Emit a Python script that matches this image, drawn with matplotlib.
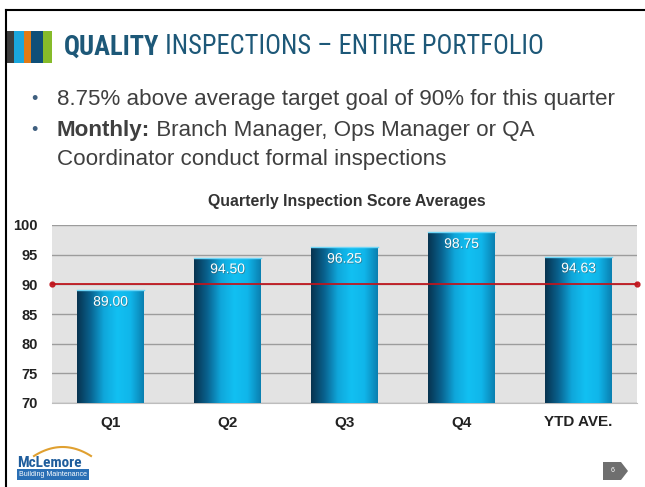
import numpy as np
import matplotlib.pyplot as plt
import matplotlib.patheffects as pe
from matplotlib import font_manager
from matplotlib.colors import LinearSegmentedColormap
from matplotlib.patches import Rectangle, Polygon

# Data
categories = ['Q1', 'Q2', 'Q3', 'Q4', 'YTD AVE.']
scores = [89.00, 94.50, 96.25, 98.75, 94.63]
target = 90
y_ticks = [70, 75, 80, 85, 90, 95, 100]

bullets = ['8.75% above average target goal of 90% for this quarter']
monthly_head = 'Monthly:'
monthly_rest = ' Branch Manager, Ops Manager or QA'
monthly_line2 = 'Coordinator conduct formal inspections'

plt.rcParams['font.family'] = ['Liberation Sans', 'DejaVu Sans']

# pick a narrow face for the title if one is installed
installed = {f.name for f in font_manager.fontManager.ttflist}
narrow = 'Liberation Sans'
for cand in ['Liberation Sans Narrow', 'Roboto Condensed', 'Open Sans Condensed',
             'Arial Narrow']:
    if cand in installed:
        narrow = cand
        break

W, H = 645, 487
fig = plt.figure(figsize=(W / 100, H / 100), dpi=100)
fig.patch.set_facecolor('white')


def fx(x):
    return x / W


def fy(y):
    return 1 - y / H


# slide frame
fig.add_artist(plt.Line2D([fx(6), 1], [fy(10), fy(10)], color='black', lw=1.5))
fig.add_artist(plt.Line2D([fx(6), fx(6)], [0, fy(10)], color='black', lw=1.5))

# coloured stripes next to the title
stripes = [(6, 14, '#3d3d3d'), (14, 24, '#1aa6dd'), (24, 31, '#e07a16'),
           (31, 43, '#0f4f78'), (43, 52, '#86bb2a')]
for x0, x1, c in stripes:
    fig.add_artist(Rectangle((fx(x0), fy(63)), fx(x1 - x0), 32 / H,
                             transform=fig.transFigure, color=c, lw=0))

# title (size chosen so the line spans the same width as the slide)
title_color = '#1d5878'
size = 18
for _ in range(2):
    t1 = fig.text(fx(64), fy(47), 'QUALITY', fontsize=size, fontweight='bold',
                  color=title_color, va='center', ha='left', family=narrow)
    fig.canvas.draw()
    bb = t1.get_window_extent()
    t1b = fig.text(bb.x1 / W, fy(47), ' INSPECTIONS \u2013 ENTIRE PORTFOLIO',
                   fontsize=size, color=title_color, va='center', ha='left',
                   family=narrow)
    fig.canvas.draw()
    width = t1b.get_window_extent().x1 - bb.x0
    if abs(width - 481) < 4:
        break
    t1.remove()
    t1b.remove()
    size = size * 481 / width

# bullets
text_color = '#3f3f3f'
fs = 16.1
fig.text(fx(31), fy(100), '\u2022', fontsize=13, color='#3f5f7f', va='center')
fig.text(fx(57), fy(100), bullets[0], fontsize=fs, color=text_color, va='center')
fig.text(fx(31), fy(130), '\u2022', fontsize=13, color='#3f5f7f', va='center')
t2 = fig.text(fx(57), fy(130), monthly_head, fontsize=fs, fontweight='bold',
              color=text_color, va='center')
fig.canvas.draw()
bb = t2.get_window_extent()
fig.text(bb.x1 / W, fy(130), monthly_rest, fontsize=fs, color=text_color, va='center')
fig.text(fx(57), fy(160), monthly_line2, fontsize=fs, color=text_color, va='center')

# chart title
fig.text(fx(347), fy(201), 'Quarterly Inspection Score Averages', fontsize=11.4,
         fontweight='bold', color='#333333', ha='center', va='center')

# chart
ax = fig.add_axes([fx(52), 84 / H, 585 / W, 178 / H])
ax.set_facecolor('#e3e3e3')
x = np.arange(len(categories))
bars = ax.bar(x, scores, width=0.57, color='none', zorder=3)

bar_cmap = LinearSegmentedColormap.from_list(
    'bar', ['#07334f', '#09628f', '#0fa6da', '#12c0f2', '#10b6ea', '#0a7fb0'])
grad = np.linspace(0, 1, 256).reshape(1, -1)
for b in bars:
    im = ax.imshow(grad, cmap=bar_cmap, aspect='auto', zorder=3,
                   extent=(b.get_x(), b.get_x() + b.get_width(), y_ticks[0], b.get_height()))
    im.set_clip_path(b)
    ax.plot([b.get_x(), b.get_x() + b.get_width()], [b.get_height()] * 2,
            color='#6fd6f7', lw=1, zorder=3.5)

ax.set_xlim(-0.5, len(categories) - 0.5)
ax.set_ylim(y_ticks[0], y_ticks[-1])

for xi, v in zip(x, scores):
    ax.text(xi, v - 0.75, f'{v:.2f}', ha='center', va='top', color='white',
            fontsize=10, zorder=5,
            path_effects=[pe.withSimplePatchShadow(offset=(0.6, -0.6), alpha=0.5)])

ax.plot([-0.5, len(categories) - 0.5], [target, target], color='#c0141c', lw=1.4,
        marker='o', ms=3.5, clip_on=False, zorder=4, alpha=0.9)

ax.set_yticks(y_ticks)
ax.set_xticks(x)
ax.set_xticklabels(categories)
ax.yaxis.grid(True, color='#9c9c9c', lw=1)
ax.set_axisbelow(True)
for s in ['left', 'right', 'top']:
    ax.spines[s].set_visible(False)
ax.spines['bottom'].set_color('#bdbdbd')
ax.tick_params(length=0, labelsize=10.5, labelcolor='#222222')
ax.tick_params(axis='y', pad=10)
ax.tick_params(axis='x', labelsize=11, pad=9)
for lab in ax.get_xticklabels() + ax.get_yticklabels():
    lab.set_fontweight('bold')

# logo
xs = np.linspace(34, 91, 30)
ys = 456 - 9 * (1 - ((xs - 62.5) / 28.5) ** 2)
fig.add_artist(plt.Line2D(fx(xs), fy(ys), color='#e0a030', lw=1.5))
fig.text(fx(17), fy(463), 'McLemore', fontsize=11, fontweight='bold',
         color='#1f5d9c', va='center', ha='left', family=narrow)
fig.add_artist(Rectangle((fx(17), fy(480)), fx(72), 11 / H,
                         transform=fig.transFigure, color='#2a6fb5', lw=0))
fig.text(fx(53), fy(474.5), 'Building Maintenance', fontsize=5, color='white',
         ha='center', va='center')

# page number tag
fig.add_artist(Polygon([(fx(603), fy(462)), (fx(621), fy(462)), (fx(628), fy(471)),
                        (fx(621), fy(480)), (fx(603), fy(480))],
                       transform=fig.transFigure, color='#6f6f6f', lw=0))
fig.text(fx(613), fy(471), '6', fontsize=5, color='white', ha='center', va='center')

fig.savefig('out.png', dpi=100, facecolor='white')
